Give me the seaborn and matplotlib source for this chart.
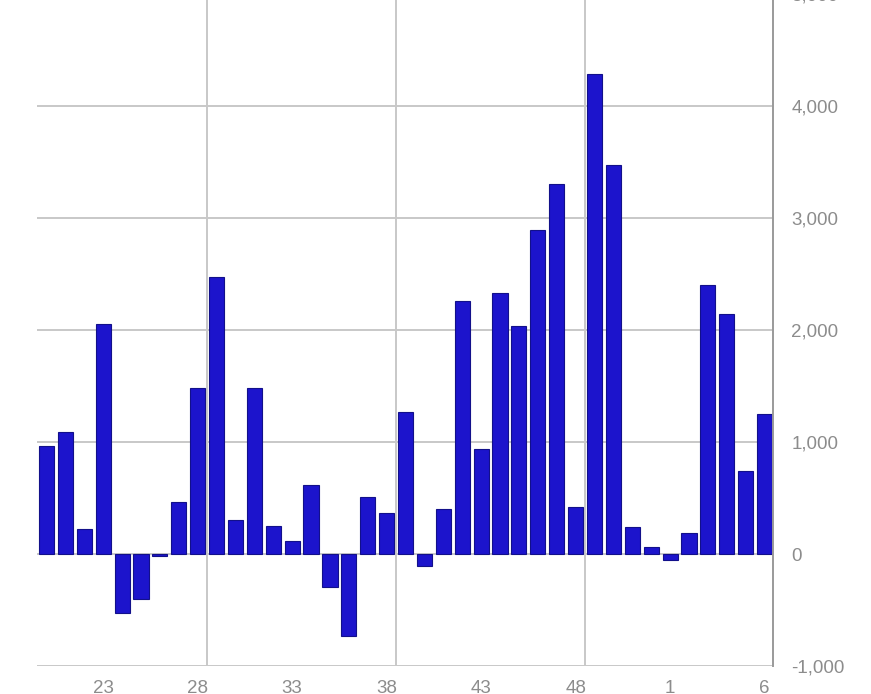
import matplotlib
matplotlib.use('Agg')
import matplotlib.pyplot as plt
import seaborn as sns
import pandas as pd

# Weekly values (week 20 of one year through week 6 of the next)
weeks = [str(w) for w in range(20, 53)] + [str(w) for w in range(1, 7)]
values = [964, 1087, 224, 2057, -522, -397, -20, 466, 1484, 2474,
          307, 1481, 251, 119, 615, -290, -728, 507, 367, 1266,
          -104, 403, 2260, 937, 2330, 2042, 2894, 3303, 418, 4288,
          3479, 245, 66, -57, 191, 2408, 2146, 746, 1254]
label_weeks = ['23', '28', '33', '38', '43', '48', '1', '6']
y_ticks = [-1000, 0, 1000, 2000, 3000, 4000, 5000]

data = pd.DataFrame({'week': weeks, 'value': values})

sns.set_style('white')
plt.rcParams['font.family'] = ['Liberation Sans', 'DejaVu Sans']

fig = plt.figure(figsize=(8.71, 6.94), dpi=100)
ax = fig.add_axes([0.0421, 0.0403, 0.8457, 0.9677])

grid_color = '#c8c8c8'
for y in y_ticks:
    ax.axhline(y, color=grid_color, lw=1.4, zorder=0)
for i in [8.5, 18.5, 28.5]:
    ax.axvline(i, color=grid_color, lw=1.4, zorder=0)

sns.barplot(x='week', y='value', data=data, order=weeks, color='#1c14cc',
            edgecolor='#12108a', linewidth=0.8, width=0.8, saturation=1,
            ax=ax, zorder=2)

ax.set_xlim(-0.52, 38.46)
ax.set_ylim(-1000, 5000)

ax.set_xticks([weeks.index(w) for w in label_weeks])
ax.set_xticklabels(label_weeks)
ax.set_yticks(y_ticks)
ax.set_yticklabels([f'{v:,}' for v in y_ticks])
ax.yaxis.tick_right()
ax.tick_params(axis='y', length=0, pad=13, labelsize=13.5, colors='#8c8c8c')
ax.tick_params(axis='x', length=0, pad=10, labelsize=13.5, colors='#8c8c8c')
for lab in ax.get_yticklabels():
    lab.set_horizontalalignment('left')

ax.set_xlabel('')
ax.set_ylabel('')
for side in ['top', 'left', 'bottom']:
    ax.spines[side].set_visible(False)
ax.spines['right'].set_color('#9a9a9a')
ax.spines['right'].set_linewidth(1.4)

fig.savefig('out.png', dpi=100)
